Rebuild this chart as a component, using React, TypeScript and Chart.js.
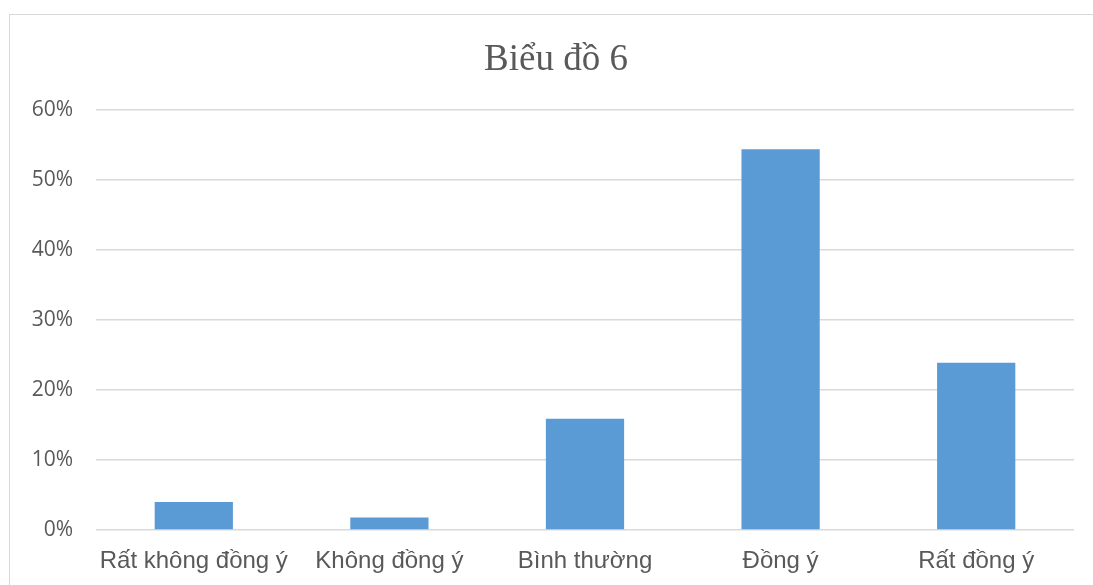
import React, { useEffect, useRef } from "react";
import { Chart, registerables } from "chart.js";

Chart.register(...registerables);

const categories = ["Rất không đồng ý", "Không đồng ý", "Bình thường", "Đồng ý", "Rất đồng ý"];
const values = [0.04, 0.018, 0.159, 0.544, 0.239];
const chartTitle = "Biểu đồ 6";

const titlePlugin = {
  id: "customTitle",
  afterDraw(chart: any) {
    const ctx = chart.ctx;
    ctx.save();
    ctx.fillStyle = "#595959";
    ctx.font = "37px 'Liberation Serif', 'Times New Roman', serif";
    ctx.textAlign = "center";
    ctx.textBaseline = "alphabetic";
    ctx.fillText(chartTitle, 556, 69.5);
    ctx.restore();
  },
};

export default function App() {
  const ref = useRef<HTMLCanvasElement | null>(null);

  useEffect(() => {
    document.body.style.margin = "0";
    const canvas = ref.current;
    if (!canvas) return;
    const chart = new Chart(canvas, {
      type: "bar",
      data: {
        labels: categories,
        datasets: [
          {
            data: values,
            backgroundColor: "#5B9BD5",
            borderWidth: 0,
            barPercentage: 0.4,
            categoryPercentage: 1,
          },
        ],
      },
      plugins: [titlePlugin],
      options: {
        responsive: false,
        animation: false,
        layout: { padding: { left: 0, right: 19, top: 110, bottom: 0 } },
        plugins: {
          legend: { display: false },
          tooltip: { enabled: false },
          title: { display: false },
        },
        scales: {
          x: {
            afterFit: (scale: any) => {
              scale.height = 55;
            },
            grid: { display: false },
            border: { display: false },
            ticks: {
              color: "#595959",
              padding: 9,
              font: { family: "'Liberation Sans', Arial, sans-serif", size: 24 },
              maxRotation: 0,
              autoSkip: false,
            },
          },
          y: {
            min: 0,
            max: 0.6,
            afterFit: (scale: any) => {
              scale.width = 96;
            },
            grid: { color: "#d9d9d9", lineWidth: 1.5, drawTicks: false },
            border: { display: false },
            ticks: {
              stepSize: 0.1,
              color: "#595959",
              padding: 23,
              font: { family: "'Open Sans', sans-serif", size: 21 },
              callback: (v: any) => Math.round(Number(v) * 100) + "%",
            },
          },
        },
      },
    });
    return () => chart.destroy();
  }, []);

  return (
    <div style={{ position: "fixed", left: 0, top: 0, width: 1093, height: 585, overflow: "hidden", background: "#fff" }}>
      <div
        style={{
          position: "absolute",
          left: 9,
          top: 14,
          width: 1100,
          height: 600,
          border: "1.5px solid #d9d9d9",
          boxSizing: "border-box",
        }}
      />
      <canvas ref={ref} width={1093} height={585} style={{ position: "absolute", left: 0, top: 0 }} />
    </div>
  );
}
